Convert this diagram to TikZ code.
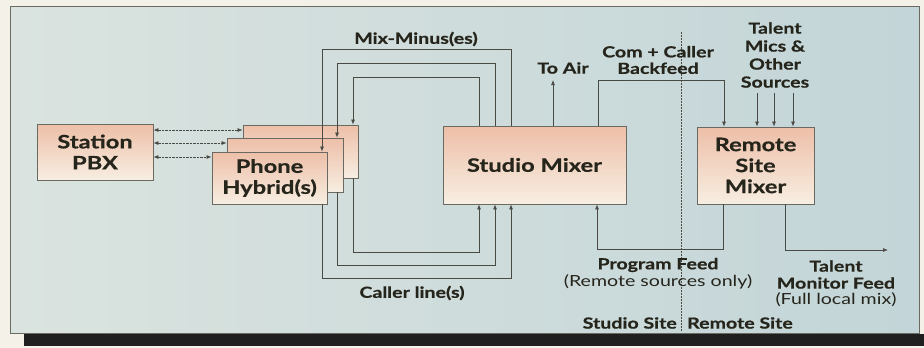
\documentclass[tikz,border=0pt]{standalone}
\usepackage{fontspec}
\setmainfont{Lato}[FakeStretch=1.28, BoldFeatures={FakeBold=0.6}]
\usetikzlibrary{arrows.meta}
\definecolor{bgout}{HTML}{F3F1E8}
\definecolor{panelL}{HTML}{DAE3DF}
\definecolor{panelR}{HTML}{C3D5D8}
\definecolor{boxtop}{HTML}{EDBFA8}
\definecolor{boxbot}{HTML}{F7EEE2}
\definecolor{boxline}{HTML}{6A6A62}
\definecolor{txt}{HTML}{26251C}
\definecolor{ln}{HTML}{4A4A44}
\tikzset{
  box/.style={draw=boxline, line width=0.8pt, top color=boxtop, bottom color=boxbot,
    font=\bfseries\fontsize{18.5}{21}\selectfont, text=txt, align=center, inner sep=0pt},
  lbl/.style={font=\bfseries\fontsize{15.3}{16.5}\selectfont, text=txt, align=center, inner sep=0pt},
  reg/.style={font=\fontsize{15.3}{16.5}\selectfont},
  conn/.style={draw=ln, line width=0.7pt},
  tip/.style={-{Latex[length=5pt,width=4pt]}},
  dtip/.style={{Latex[length=5pt,width=4pt]}-{Latex[length=5pt,width=4pt]}}
}
\begin{document}
\begin{tikzpicture}[x=1pt,y=-1pt]
\useasboundingbox (0,0) rectangle (924,348);
% background
\fill[bgout] (0,0) rectangle (924,348);
\fill[black!88] (24,334) rectangle (924,346);
\shade[left color=panelL, right color=panelR] (10,6) rectangle (919,333);
\draw[boxline, line width=0.8pt] (10,6) rectangle (919,333);

% boxes
\node[box, minimum width=116pt, minimum height=56pt] (pbx) at (95,152) {Station\\PBX};
\node[box, minimum width=115pt, minimum height=53pt] (hb) at (300.5,151.5) {};
\node[box, minimum width=116pt, minimum height=54pt] (hm) at (285,165) {};
\node[box, minimum width=115pt, minimum height=52pt] (hf) at (269.5,178) {Phone\\Hybrid(s)};
\node[box, minimum width=183pt, minimum height=78pt] (sm) at (534.5,165) {Studio Mixer};
\node[box, minimum width=117pt, minimum height=77pt] (rm) at (755.5,165.5) {Remote\\Site\\Mixer};

% PBX to hybrids
\draw[conn, dtip, dash pattern=on 2.5pt off 1pt] (pbx.east |- 0,130) -- (hb.west |- 0,130);
\draw[conn, dtip, dash pattern=on 2.5pt off 1pt] (pbx.east |- 0,143) -- (hm.west |- 0,143);
\draw[conn, dtip, dash pattern=on 2.5pt off 1pt] (pbx.east |- 0,157) -- (hf.west |- 0,157);

% mix-minus
\coordinate (mo) at (322,49);
\coordinate (mm) at (337,63);
\coordinate (mi) at (353,77);
\coordinate (mor) at (511,49);
\coordinate (mmr) at (495,63);
\coordinate (mir) at (479,77);
\draw[conn, tip] (sm.north -| mor) -- (mor) -- (mo) -- (mo |- hf.north);
\draw[conn, tip] (sm.north -| mmr) -- (mmr) -- (mm) -- (mm |- hm.north);
\draw[conn, tip] (sm.north -| mir) -- (mir) -- (mi) -- (mi |- hb.north);

% caller lines
\coordinate (co) at (322,278);
\coordinate (cm) at (337,265);
\coordinate (ci) at (353,252);
\draw[conn, tip] (hf.south -| co) -- (co) -- (co -| mor) -- (sm.south -| mor);
\draw[conn, tip] (hm.south -| cm) -- (cm) -- (cm -| mmr) -- (sm.south -| mmr);
\draw[conn, tip] (hb.south -| ci) -- (ci) -- (ci -| mir) -- (sm.south -| mir);

% to air
\coordinate (air) at (553,80);
\draw[conn, tip] (sm.north -| air) -- (air);

% backfeed
\coordinate (bf1) at (598,80);
\coordinate (bf2) at (724,80);
\draw[conn, tip] (sm.north -| bf1) -- (bf1) -- (bf2) -- (bf2 |- rm.north);

% talent mic inputs
\foreach \xx/\nm in {757/ta,774/tb,793/tc}{
  \coordinate (\nm) at (\xx,93);
  \draw[conn, tip] (\nm) -- (\nm |- rm.north);
}

% program feed
\coordinate (pf1) at (723,249);
\coordinate (pf2) at (597,249);
\draw[conn, tip] (rm.south -| pf1) -- (pf1) -- (pf2) -- (pf2 |- sm.south);

% talent monitor feed
\coordinate (tm1) at (785,250);
\coordinate (tm2) at (888,250);
\draw[conn, tip] (rm.south -| tm1) -- (tm1) -- (tm2);

% site divider
\coordinate (dv1) at (681,32);
\coordinate (dv2) at (681,332);
\draw[ln, line width=0.7pt, dash pattern=on 1.5pt off 1.5pt] (dv1) -- (dv2);

% labels
\node[lbl] (lmix) at (416,39) {Mix-Minus(es)};
\node[lbl] (lcall) at (412,293) {Caller line(s)};
\node[lbl] (lair) at (563,68) {To Air};
\node[lbl, font=\bfseries\fontsize{15.3}{16.5}\selectfont] (lcom) at (658,60) {Com + Caller\\Backfeed};
\node[lbl, font=\bfseries\fontsize{15.3}{18}\selectfont] (ltal) at (775,55) {Talent\\Mics \&\\Other\\Sources};
\node[lbl] (lpf) at (658,265) {Program Feed};
\node[lbl, reg] (lpf2) at (658,282) {(Remote sources only)};
\node[lbl, font=\bfseries\fontsize{15.3}{17}\selectfont] (ltm) at (836,274.5) {Talent\\Monitor Feed};
\node[lbl, reg] (ltm2) at (836,300) {(Full local mix)};
\node[lbl, anchor=east] (lss) at (677,323) {Studio Site};
\node[lbl, anchor=west] (lrs) at (687,323) {Remote Site};
\end{tikzpicture}
\end{document}
